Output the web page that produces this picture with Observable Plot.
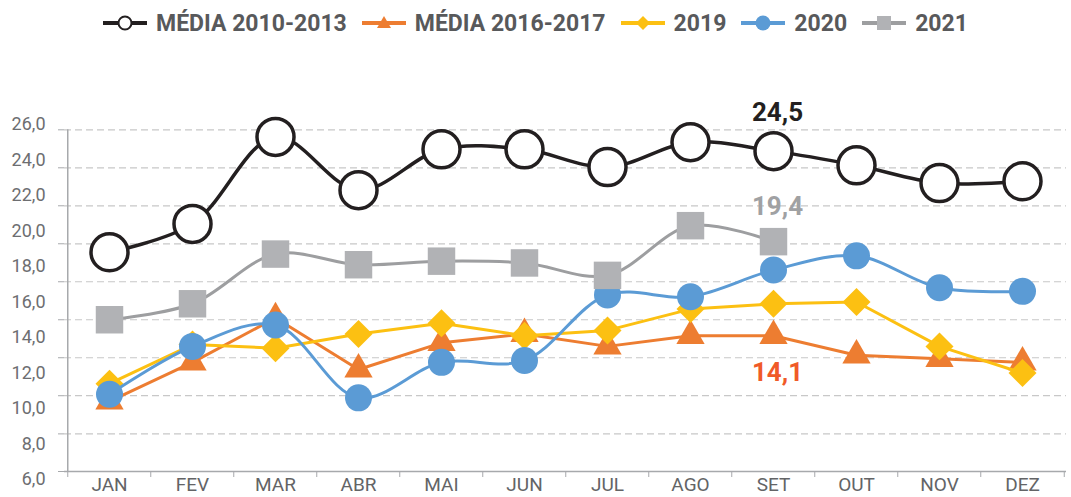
<!DOCTYPE html>
<html>
<head>
<meta charset="utf-8">
<script src="https://cdn.jsdelivr.net/npm/d3@7"></script>
<script src="https://cdn.jsdelivr.net/npm/@observablehq/plot@0.6"></script>
<style>
  html, body { margin: 0; padding: 0; background: #fff; }
  body { width: 1071px; height: 497px; overflow: hidden; font-family: Roboto, "DejaVu Sans", sans-serif; }
  #legend { height: 46px; display: flex; align-items: center; justify-content: center; gap: 15px; color: #58595b; font-weight: 700; font-size: 23px; }
  #legend .item { display: flex; align-items: center; gap: 9px; }
  #legend svg { display: block; }
</style>
</head>
<body>
<div id="legend"></div>
<div id="chart"></div>
<script>
// ---- data ----
const months = ["JAN","FEV","MAR","ABR","MAI","JUN","JUL","AGO","SET","OUT","NOV","DEZ"];
const media1013 = [18.8, 20.4, 25.3, 22.3, 24.6, 24.6, 23.6, 25.0, 24.5, 23.7, 22.7, 22.8];
const media1617 = [10.4, 12.6, 15.1, 12.2, 13.7, 14.2, 13.5, 14.1, 14.1, 13.0, 12.8, 12.6];
const v2019 = [11.4, 13.6, 13.4, 14.2, 14.8, 14.1, 14.4, 15.6, 15.9, 16.0, 13.5, 12.0];
const v2020 = [10.8, 13.5, 14.7, 10.6, 12.6, 12.7, 16.4, 16.3, 17.8, 18.6, 16.8, 16.6];
const v2021 = [15.0, 15.9, 18.7, 18.1, 18.3, 18.2, 17.5, 20.3, 19.4];
const seriesNames = ["MÉDIA 2010-2013", "MÉDIA 2016-2017", "2019", "2020", "2021"];
const yTickValues = [6, 8, 10, 12, 14, 16, 18, 20, 22, 24, 26];
const gridValues = [8.57, 10.72, 12.86, 15.0, 17.14, 19.28, 21.42, 23.56, 25.70];
const axisBase = 6.45;
const annotatedMonth = "SET";

const fmt = d => d.toFixed(1).replace(".", ",");

const series = [
  {name: seriesNames[0], values: media1013, stroke: "#231f20", sw: 3.5, curve: "catmull-rom",
   symbol: "circle", r: 18.5, fill: "#fff", mstroke: "#231f20", msw: 3.5, label: "#231f20", dy: -38},
  {name: seriesNames[1], values: media1617, stroke: "#ed7d31", sw: 3, curve: "linear",
   symbol: "triangle", r: 10.5, fill: "#ed7d31", mstroke: "none", msw: 0, label: "#f05a28", dy: 37},
  {name: seriesNames[2], values: v2019, stroke: "#fcc012", sw: 3, curve: "linear",
   symbol: "diamond2", r: 12.6, fill: "#fcc012", mstroke: "none", msw: 0},
  {name: seriesNames[3], values: v2020, stroke: "#5b9bd5", sw: 3, curve: "catmull-rom",
   symbol: "circle", r: 13.5, fill: "#5b9bd5", mstroke: "none", msw: 0},
  {name: seriesNames[4], values: v2021, stroke: "#9d9ea0", sw: 3, curve: "catmull-rom",
   symbol: "square", r: 15.5, fill: "#b1b2b5", mstroke: "none", msw: 0, label: "#a0a1a3", dy: -35}
];
series.forEach(s => { s.data = s.values.map((v, i) => ({month: months[i], value: v})); });

// ---- legend ----
const legend = document.getElementById("legend");
const swatch = {
  circleOpen: `<circle cx="22" cy="12" r="6.5" fill="#fff" stroke="#231f20" stroke-width="2"/>`,
  triangle: `<path d="M22,5 L29,17 L15,17 Z" fill="#ed7d31"/>`,
  diamond2: `<path d="M22,5 L29,12 L22,19 L15,12 Z" fill="#fcc012"/>`,
  circle: `<circle cx="22" cy="12" r="7.5" fill="#5b9bd5"/>`,
  square: `<rect x="15" y="5" width="14" height="14" fill="#b1b2b5"/>`
};
const swKeys = ["circleOpen", "triangle", "diamond2", "circle", "square"];
series.forEach((s, i) => {
  const it = document.createElement("div");
  it.className = "item";
  it.innerHTML = `<svg width="44" height="24"><line x1="0" x2="44" y1="12" y2="12" stroke="${s.stroke}" stroke-width="4"/>${swatch[swKeys[i]]}</svg><span>${s.name}</span>`;
  legend.appendChild(it);
});

// ---- chart ----
const W = 1071, H = 451, ml = 64, mr = 5, mt = 83, mb = 26;
const step = (W - ml - mr) / months.length;
const axisColor = "#a7a9ac";

const marks = [
  Plot.ruleY(gridValues, {stroke: "#c8c8c8", strokeWidth: 1.2, strokeDasharray: "7,4"}),
  Plot.ruleY([axisBase], {stroke: axisColor, strokeWidth: 1.5}),
  Plot.ruleX([months[0]], {y1: axisBase, y2: gridValues[gridValues.length - 1], dx: -step / 2, stroke: axisColor, strokeWidth: 1.5}),
  Plot.axisY({ticks: [axisBase, ...gridValues], tickSize: 6, tickFormat: () => "", stroke: axisColor}),
  Plot.axisY({ticks: yTickValues, tickSize: 0, tickPadding: 19, tickFormat: fmt, fontSize: 18, color: "#6d6e71", fill: "#6d6e71"}),
  Plot.axisX({ticks: months, tickSize: 6, dx: -step / 2, tickFormat: () => "", stroke: axisColor}),
  Plot.axisX({ticks: [months[months.length - 1]], tickSize: 6, dx: step / 2, tickFormat: () => "", stroke: axisColor}),
  Plot.axisX({ticks: months, tickSize: 0, tickPadding: 6, fontSize: 19, color: "#636466", fill: "#636466"})
];

series.forEach(s => {
  marks.push(Plot.line(s.data, {x: "month", y: "value", stroke: s.stroke, strokeWidth: s.sw, curve: s.curve}));
  marks.push(Plot.dot(s.data, {x: "month", y: "value", symbol: s.symbol, r: s.r, fill: s.fill, stroke: s.mstroke, strokeWidth: s.msw}));
});

series.filter(s => s.label).forEach(s => {
  const d = s.data.filter(p => p.month === annotatedMonth);
  marks.push(Plot.text(d, {x: "month", y: "value", text: p => fmt(p.value), dy: s.dy, dx: 4,
    fill: s.label, fontSize: 26, fontWeight: 700}));
});

const chart = Plot.plot({
  width: W, height: H,
  marginLeft: ml, marginRight: mr, marginTop: mt, marginBottom: mb,
  style: {fontFamily: "Roboto, 'DejaVu Sans', sans-serif", background: "#fff", overflow: "visible"},
  x: {type: "point", domain: months, padding: 0.5, label: null},
  y: {domain: [6, 26], range: [433, 78], label: null},
  marks
});
document.getElementById("chart").appendChild(chart);
</script>
</body>
</html>
